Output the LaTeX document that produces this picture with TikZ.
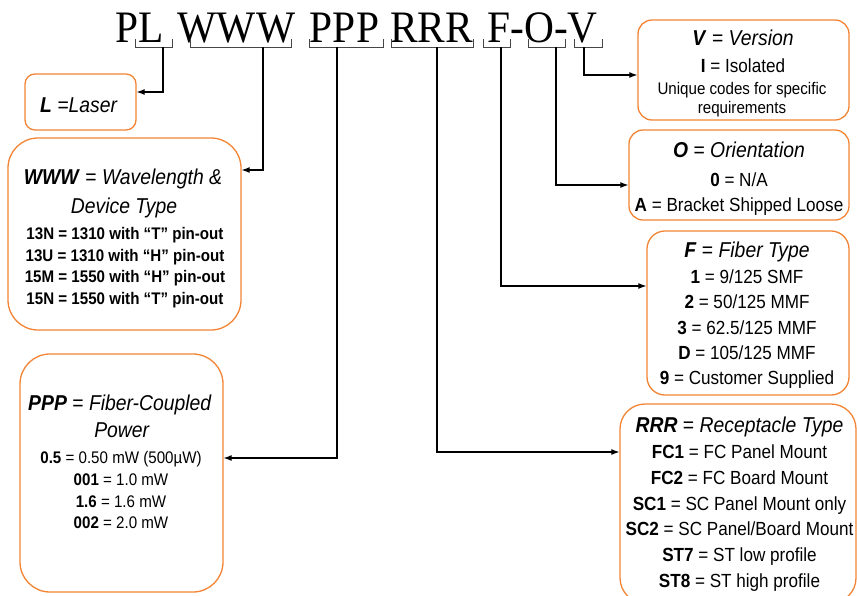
\documentclass[tikz,border=0pt]{standalone}
\usepackage{fontspec}
\setmainfont{Liberation Sans}[FakeStretch=0.9]
\newfontfamily\serifT{Liberation Serif}[FakeStretch=0.92]
\usetikzlibrary{arrows.meta,calc}
\definecolor{boxorange}{RGB}{242,132,52}
\definecolor{brkgray}{RGB}{70,70,70}
\newcommand\setfs[1]{\fontsize{#1}{#1}\selectfont}
\tikzset{
  obox/.style={draw=boxorange, line width=1.3pt, rounded corners=#1, rectangle, inner sep=0pt, fill=white},
  txt/.style={anchor=base, inner sep=0pt},
  head/.style={txt, font=\setfs{21.5}},
  item/.style={txt, font=\setfs{19}},
  sitem/.style={txt, font=\setfs{16.8}},
  ttl/.style={anchor=base, inner sep=0pt, font=\serifT\setfs{45}},
  brk/.style={draw=brkgray, line width=1pt},
  conn/.style={draw=black, line width=1.1pt, -{Latex[length=8pt,width=6pt]}},
}
\begin{document}
\begin{tikzpicture}[x=1pt,y=-1pt]
\useasboundingbox (0,0) rectangle (857,595);
% title
\node[ttl] (tPL) at (140,42) {PL};
\node[ttl] (tW) at (236.5,42) {WWW};
\node[ttl] (tP) at (344.5,42) {PPP};
\node[ttl] (tR) at (431.5,42) {RRR};
\node[ttl] (tFOV) at (542.5,42) {F-O-V};
% brackets
\draw[brk] (135,39) -- (135,47) -- (172,47) -- (172,39);
\draw[brk] (190,39) -- (190,47) -- (291,47) -- (291,39);
\draw[brk] (309,39) -- (309,47) -- (383,47) -- (383,39);
\draw[brk] (391,39) -- (391,47) -- (473,47) -- (473,39);
\draw[brk] (483,39) -- (483,47) -- (510,47) -- (510,39);
\draw[brk] (528,39) -- (528,47) -- (565,47) -- (565,39);
\draw[brk] (574,39) -- (574,47) -- (602,47) -- (602,39);
\coordinate (bL) at (163,47);
\coordinate (bW) at (263,47);
\coordinate (bP) at (337,47);
\coordinate (bR) at (437,47);
\coordinate (bF) at (501,47);
\coordinate (bO) at (556,47);
\coordinate (bV) at (584,47);
% boxes
\node[obox=10pt, minimum width=111pt, minimum height=56pt] (Lbox) at (80.5,102) {};
\node[obox=30pt, minimum width=233pt, minimum height=192pt] (Wbox) at (124.5,234) {};
\node[obox=30pt, minimum width=203pt, minimum height=238pt] (Pbox) at (121.5,473) {};
\node[obox=14pt, minimum width=211pt, minimum height=100pt] (Vbox) at (743.5,70) {};
\node[obox=14pt, minimum width=220pt, minimum height=90pt] (Obox) at (739,175) {};
\node[obox=18pt, minimum width=202pt, minimum height=164pt] (Fbox) at (748,313) {};
\node[obox=25pt, minimum width=236pt, minimum height=199pt] (Rbox) at (738,503.5) {};
% connectors
\draw[conn] (bL) |- ($(Lbox.east)+(0,-10)$);
\draw[conn] (bW) |- ($(Wbox.east)+(0,-64)$);
\draw[conn] (bP) |- ($(Pbox.east)+(0,-15)$);
\draw[conn] (bR) |- ($(Rbox.west)+(0,-51.5)$);
\draw[conn] (bF) |- ($(Fbox.west)+(0,-27)$);
\draw[conn] (bO) |- ($(Obox.west)+(0,10)$);
\draw[conn] (bV) |- ($(Vbox.west)+(0,5)$);
% L box
\node[head] (Lt) at (79,112) {\textbf{\textit{L}} \textit{=Laser}};
% WWW box
\node[head] (Wh1) at (123,184) {\textbf{\textit{WWW}} = \textit{Wavelength \&}};
\node[head] (Wh2) at (124,213) {\textit{Device Type}};
\node[sitem] (W1) at (125,239) {\textbf{13N = 1310 with “T” pin-out}};
\node[sitem] (W2) at (125,261) {\textbf{13U = 1310 with “H” pin-out}};
\node[sitem] (W3) at (125,282) {\textbf{15M = 1550 with “H” pin-out}};
\node[sitem] (W4) at (125,304) {\textbf{15N = 1550 with “T” pin-out}};
% PPP box
\node[head] (Ph1) at (120,410) {\textbf{\textit{PPP}} = \textit{Fiber-Coupled}};
\node[head] (Ph2) at (122,437) {\textit{Power}};
\node[sitem] (P1) at (121,463) {\textbf{0.5} = 0.50 mW (500µW)};
\node[sitem] (P2) at (121,485) {\textbf{001} = 1.0 mW};
\node[sitem] (P3) at (121,507) {\textbf{1.6} = 1.6 mW};
\node[sitem] (P4) at (121,528) {\textbf{002} = 2.0 mW};
% V box
\node[head] (Vh) at (743,45) {\textbf{\textit{V}} = \textit{Version}};
\node[item] (V1) at (743,72) {\textbf{I} = Isolated};
\node[sitem] (V2) at (742,94) {Unique codes for specific};
\node[sitem] (V3) at (742,113) {requirements};
% O box
\node[head] (Oh) at (739,157) {\textbf{\textit{O}} = \textit{Orientation}};
\node[item] (O1) at (739,186) {\textbf{0} = N/A};
\node[item] (O2) at (739,211) {\textbf{A} = Bracket Shipped Loose};
% F box
\node[head] (Fh) at (747,257) {\textbf{\textit{F}} = \textit{Fiber Type}};
\node[item] (F1) at (747,283) {\textbf{1} = 9/125 SMF};
\node[item] (F2) at (747,308.5) {\textbf{2} = 50/125 MMF};
\node[item] (F3) at (747,334) {\textbf{3} = 62.5/125 MMF};
\node[item] (F4) at (747,359) {\textbf{D} = 105/125 MMF};
\node[item] (F5) at (747,384) {\textbf{9} = Customer Supplied};
% RRR box
\node[head] (Rh) at (739.5,432) {\textbf{\textit{RRR}} = \textit{Receptacle Type}};
\node[item] (R1) at (739.5,458) {\textbf{FC1} = FC Panel Mount};
\node[item] (R2) at (739.5,484) {\textbf{FC2} = FC Board Mount};
\node[item] (R3) at (739.5,510) {\textbf{SC1} = SC Panel Mount only};
\node[item] (R4) at (739.5,535) {\textbf{SC2} = SC Panel/Board Mount};
\node[item] (R5) at (739.5,561) {\textbf{ST7} = ST low profile};
\node[item] (R6) at (739.5,587) {\textbf{ST8} = ST high profile};
\end{tikzpicture}
\end{document}
